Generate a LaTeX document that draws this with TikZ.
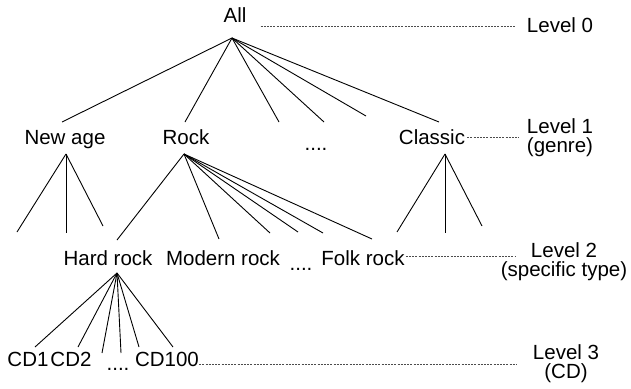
\documentclass[tikz,border=0pt]{standalone}
\usepackage{fontspec}
\setmainfont{Liberation Sans}
\usetikzlibrary{calc}

\tikzset{
  word/.style={anchor=base, inner sep=0pt, font=\fontsize{20.5}{19}\selectfont},
  levelbox/.style={inner sep=0pt, align=center, font=\fontsize{20.5}{19}\selectfont},
  branch/.style={line width=0.9pt},
  leader/.style={line width=0.7pt, black!70, dash pattern=on 2pt off 1.2pt},
}

\begin{document}
\begin{tikzpicture}[x=1pt,y=-1pt]
		\useasboundingbox (0,0) rectangle (631,388);
		%%%%% TEXTS %%%%%
		\node[word] (all) at (235,22) {All};
		
		\node[word] (newage) at (65,144) {New age};
		\node[word] (rock) at (186,144) {Rock};
		\node[word] (dotsA) at (316,150) {....};
		\node[word] (classic) at (432,144) {Classic};
		
		\node[word] (hardrock) at (108,265) {Hard rock};
		\node[word] (modernrock) at (223,265) {Modern rock};
		\node[word] (dotsB) at (301,270) {....};
		\node[word] (folkrock) at (363,265) {Folk rock};
		
		\node[word] (cdA) at (28,366) {CD1};
		\node[word] (cdB) at (71,366) {CD2};
		\node[word] (dotsC) at (118,370) {....};
		\node[word] (cdC) at (167,366) {CD100};
		
		\node[word] (lvlA) at (560,32) {Level 0};
		\node[levelbox] (lvlB) at (560,138) {Level 1\\(genre)};
		\node[levelbox] (lvlC) at (564,262) {Level 2\\(specific type)};
		\node[levelbox] (lvlD) at (566,364) {Level 3\\(CD)};
		
		%%%%% FAN POINTS %%%%%
		\coordinate (all-foot) at (232,38);
		\coordinate (newage-head) at (62,122);
		\coordinate (rock-head) at (185,122);
		\coordinate (all-x1) at (279,122);
		\coordinate (all-x2) at (324,122);
		\coordinate (all-x3) at (366,116);
		\coordinate (classic-head) at (439,122);
		
		\coordinate (newage-foot) at (66,154);
		\coordinate (newage-x1) at (17,232);
		\coordinate (newage-x2) at (66,233);
		\coordinate (newage-x3) at (103,226);
		
		\coordinate (rock-foot) at (184,154);
		\coordinate (hardrock-head) at (117,240);
		\coordinate (modernrock-head) at (219,239);
		\coordinate (rock-x1) at (270,233);
		\coordinate (rock-x2) at (298,232);
		\coordinate (rock-x3) at (323,233);
		\coordinate (folkrock-head) at (372,239);
		
		\coordinate (classic-foot) at (445,154);
		\coordinate (classic-x1) at (397,232);
		\coordinate (classic-x2) at (445,233);
		\coordinate (classic-x3) at (482,226);
		
		\coordinate (hardrock-foot) at (117,273);
		\coordinate (cdA-head) at (35,347);
		\coordinate (cdB-head) at (78,347);
		\coordinate (hardrock-x1) at (102,353);
		\coordinate (hardrock-x2) at (121,353);
		\coordinate (cdC-head) at (139,347);
		\coordinate (hardrock-x3) at (173,347);
		
		%%%%% BRANCHES %%%%%
		\draw[branch] (all-foot) -- (newage-head);
		\draw[branch] (all-foot) -- (rock-head);
		\draw[branch] (all-foot) -- (all-x1);
		\draw[branch] (all-foot) -- (all-x2);
		\draw[branch] (all-foot) -- (all-x3);
		\draw[branch] (all-foot) -- (classic-head);
		
		\draw[branch] (newage-foot) -- (newage-x1);
		\draw[branch] (newage-foot) -- (newage-x2);
		\draw[branch] (newage-foot) -- (newage-x3);
		
		\draw[branch] (rock-foot) -- (hardrock-head);
		\draw[branch] (rock-foot) -- (modernrock-head);
		\draw[branch] (rock-foot) -- (rock-x1);
		\draw[branch] (rock-foot) -- (rock-x2);
		\draw[branch] (rock-foot) -- (rock-x3);
		\draw[branch] (rock-foot) -- (folkrock-head);
		
		\draw[branch] (classic-foot) -- (classic-x1);
		\draw[branch] (classic-foot) -- (classic-x2);
		\draw[branch] (classic-foot) -- (classic-x3);
		
		\draw[branch] (hardrock-foot) -- (cdA-head);
		\draw[branch] (hardrock-foot) -- (cdB-head);
		\draw[branch] (hardrock-foot) -- (hardrock-x1);
		\draw[branch] (hardrock-foot) -- (hardrock-x2);
		\draw[branch] (hardrock-foot) -- (cdC-head);
		\draw[branch] (hardrock-foot) -- (hardrock-x3);
		
		%%%%% LEADERS %%%%%
		\coordinate (lvlA-end) at (516,26);
		\coordinate (lvlB-end) at (519,137);
		\coordinate (lvlC-end) at (515,256);
		\coordinate (lvlD-end) at (517,364);
		\draw[leader] ([xshift=14pt]all.east |- lvlA-end) -- (lvlA-end);
		\draw[leader] ([xshift=2pt]classic.east |- lvlB-end) -- (lvlB-end);
		\draw[leader] ([xshift=1pt]folkrock.east |- lvlC-end) -- (lvlC-end);
		\draw[leader] (cdC.east |- lvlD-end) -- (lvlD-end);
	\end{tikzpicture}
\end{document}
